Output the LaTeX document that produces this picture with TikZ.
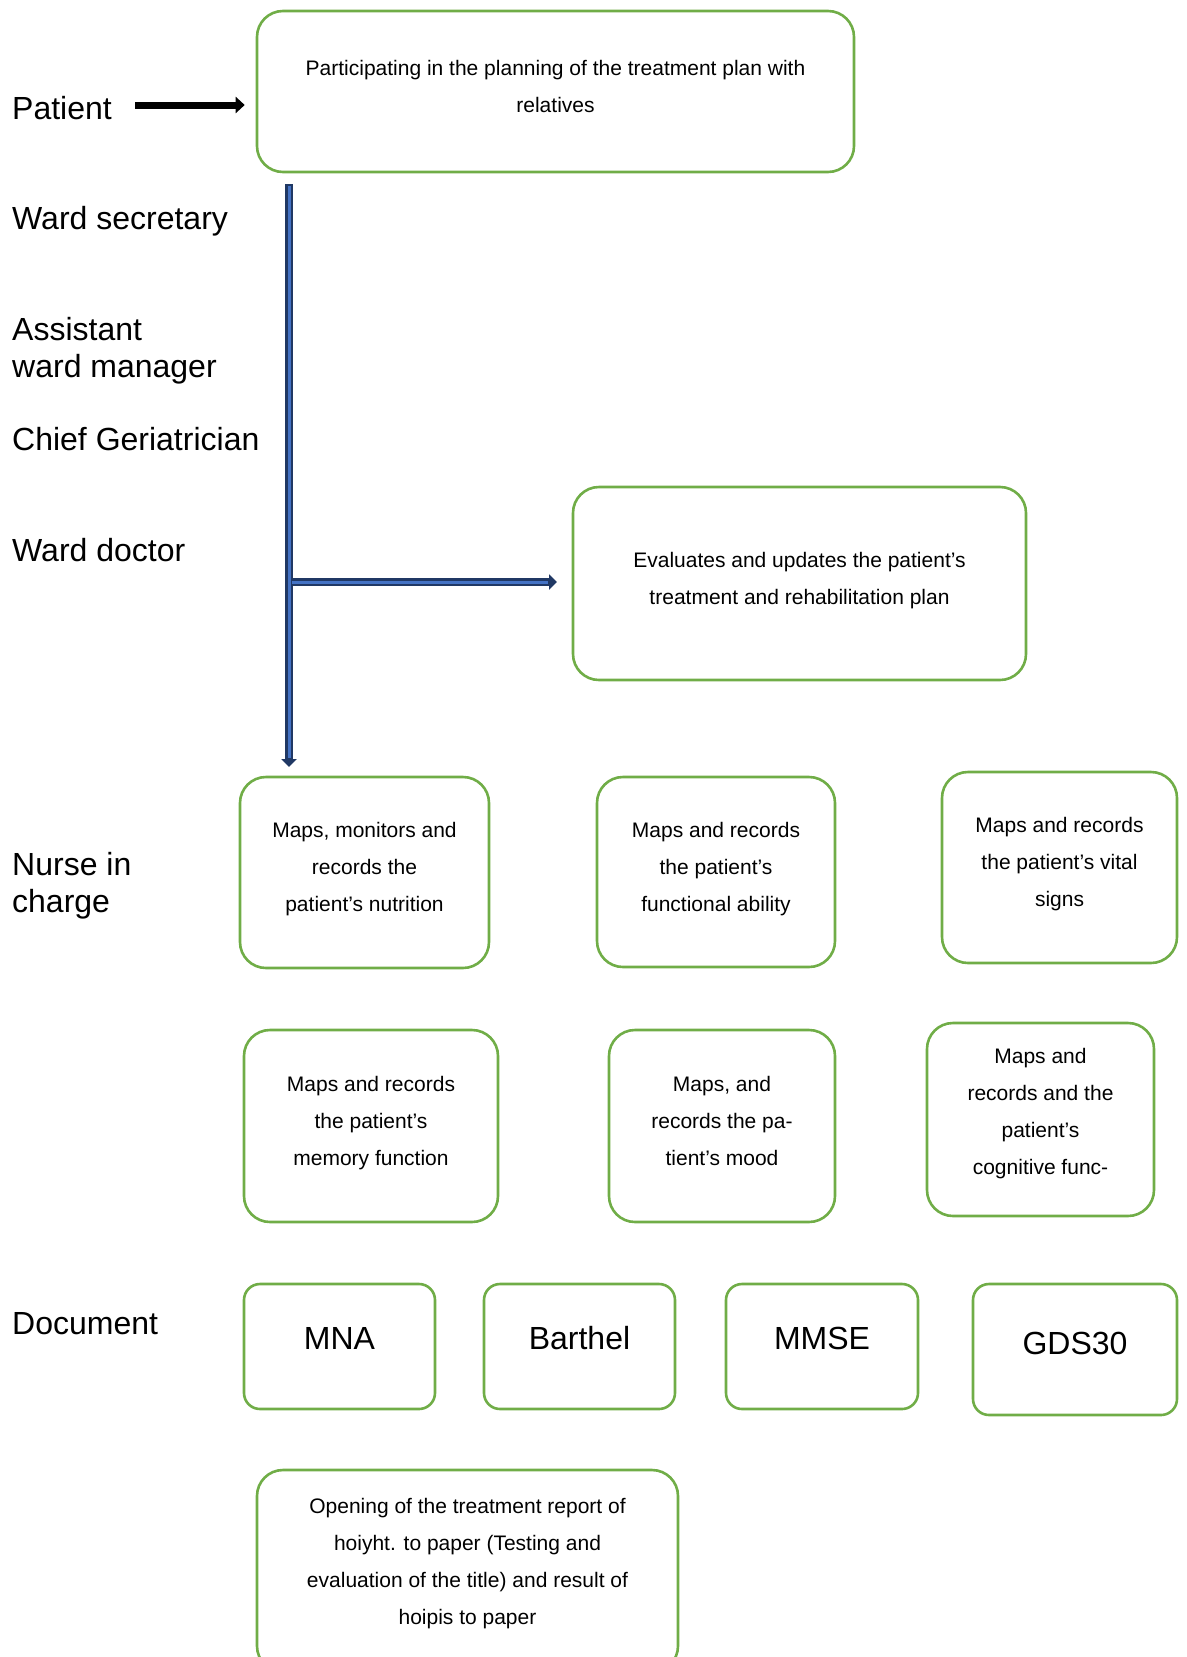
\documentclass[tikz,border=0pt]{standalone}
\usepackage{fontspec}
\setmainfont{Liberation Sans}
\usetikzlibrary{arrows.meta}
\definecolor{boxgreen}{HTML}{70AD47}
\definecolor{navy}{HTML}{203864}
\definecolor{lblue}{HTML}{4472C4}
\tikzset{
  gbox/.style={draw=boxgreen, line width=2.6pt, rounded corners=26pt, inner sep=0pt,
    align=center, font=\fontsize{21}{37}\selectfont},
  dbox/.style={draw=boxgreen, line width=2.6pt, rounded corners=16pt, inner sep=0pt,
    align=center, font=\fontsize{32}{38}\selectfont, minimum width=191pt, minimum height=125pt,
    text depth=17pt},
  role/.style={inner sep=0pt, align=left, font=\fontsize{32}{37}\selectfont},
  bluearrowout/.style={navy, line width=8pt, -{Triangle[length=8pt,width=15pt]}},
  bluearrowin/.style={lblue, line width=3pt},
  blackarrow/.style={black, line width=7pt, -{Triangle[length=9pt,width=16pt]}}
}
\begin{document}
\begin{tikzpicture}[x=1pt,y=-1pt]
\useasboundingbox (0,0) rectangle (1186,1657);
% role labels
\node[role, anchor=base west] (patient) at (12,119.5) {Patient};
\node[role, anchor=base west] (wsec) at (12,229.5) {Ward secretary};
\node[role, anchor=west] (awm) at (12,351) {Assistant\\ward manager};
\node[role, anchor=base west] (chief) at (12,450.5) {Chief Geriatrician};
\node[role, anchor=base west] (wdoc) at (12,561.5) {Ward doctor};
\node[role, anchor=west] (nurse) at (12,886) {Nurse in\\charge};
\node[role, anchor=base west] (docu) at (12,1334.5) {Document};
% boxes
\node[gbox, minimum width=597pt, minimum height=161pt, text depth=11pt] (plan) at (555.5,91.5)
  {Participating in the planning of the treatment plan with\\relatives};
\node[gbox, minimum width=453pt, minimum height=193pt, text depth=11pt] (eval) at (799.5,583.5)
  {Evaluates and updates the patient’s\\treatment and rehabilitation plan};
\node[gbox, minimum width=249pt, minimum height=191pt, text depth=11pt] (nutr) at (364.5,872.5)
  {Maps, monitors and\\records the\\patient’s nutrition};
\node[gbox, minimum width=238pt, minimum height=190pt, text depth=11pt] (func) at (716,872)
  {Maps and records\\the patient’s\\functional ability};
\node[gbox, minimum width=235pt, minimum height=191pt, text depth=11pt] (vital) at (1059.5,867.5)
  {Maps and records\\the patient’s vital\\signs};
\node[gbox, minimum width=254pt, minimum height=192pt, text depth=9.5pt] (memo) at (371,1126)
  {Maps and records\\the patient’s\\memory function};
\node[gbox, minimum width=226pt, minimum height=192pt, text depth=9.5pt] (mood) at (722,1126)
  {Maps, and\\records the pa-\\tient’s mood};
\node[gbox, minimum width=227pt, minimum height=193pt, text depth=17pt] (cogn) at (1040.5,1119.5)
  {Maps and\\records and the\\patient’s\\cognitive func-};
\node[dbox] (mna) at (339.5,1346.5) {MNA};
\node[dbox] (barthel) at (579.5,1346.5) {Barthel};
\node[dbox, minimum width=192pt] (mmse) at (822,1346.5) {MMSE};
\node[dbox, minimum width=204pt, minimum height=131pt, text depth=12.6pt] (gds) at (1075,1349.5) {GDS30};
\node[gbox, minimum width=421pt, minimum height=202pt, text depth=19pt] (report) at (467.5,1571)
  {Opening of the treatment report of\\hoiyht. to paper (Testing and\\evaluation of the title) and result of\\hoipis to paper};
% connectors
\coordinate (pa) at (135,105);
\draw[blackarrow] (pa) -- ([xshift=-11pt]plan.west |- pa);
\coordinate (vtop) at (289,184);
\coordinate (vbot) at (289,767);
\coordinate (hstart) at (293,582);
\coordinate (hend) at (557,582);
\draw[bluearrowout] (vtop) -- (vbot);
\draw[bluearrowout] (hstart) -- (hend);
\draw[bluearrowin] ([yshift=-1.5pt]vtop) -- ([yshift=9pt]vbot);
\draw[bluearrowin] ([xshift=-1pt]hstart) -- ([xshift=-9pt]hend);
\end{tikzpicture}
\end{document}
